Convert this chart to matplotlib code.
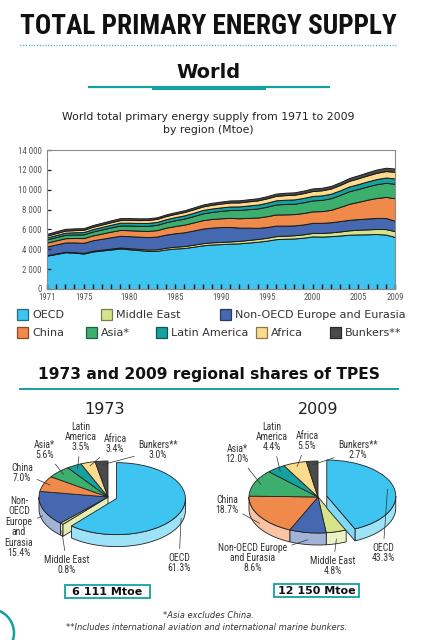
import numpy as np
import matplotlib
matplotlib.use("Agg")
import matplotlib.pyplot as plt
import matplotlib.colors as mcolors
from matplotlib import font_manager as fm
from matplotlib.patches import Rectangle, Polygon, Circle
from matplotlib.ticker import FixedLocator, FuncFormatter

# ---------------- data ----------------
years = list(range(1971, 2010))
oecd = [3360, 3530, 3700, 3660, 3570, 3780, 3880, 3980, 4080, 4000,
        3920, 3830, 3840, 3990, 4080, 4130, 4260, 4400, 4480, 4520,
        4570, 4600, 4680, 4760, 4870, 5020, 5060, 5090, 5170, 5300,
        5280, 5320, 5390, 5470, 5500, 5510, 5540, 5480, 5240]
middle_east = [45, 50, 50, 55, 60, 70, 80, 90, 100, 110,
               125, 140, 160, 175, 185, 195, 205, 215, 225, 220,
               225, 245, 260, 280, 290, 305, 315, 325, 335, 350,
               365, 385, 405, 440, 470, 495, 510, 555, 585]
non_oecd_europe = [880, 910, 940, 980, 1020, 1060, 1100, 1140, 1180, 1210,
                   1230, 1260, 1280, 1320, 1350, 1390, 1430, 1470, 1480, 1500,
                   1460, 1340, 1240, 1120, 1080, 1060, 1010, 990, 1000, 1010,
                   1020, 1020, 1050, 1060, 1070, 1100, 1110, 1120, 1045]
china = [390, 410, 428, 440, 480, 490, 530, 570, 590, 600,
         600, 620, 650, 690, 730, 770, 810, 850, 870, 880,
         910, 940, 990, 1040, 1090, 1120, 1130, 1140, 1150, 1160,
         1180, 1250, 1420, 1610, 1740, 1890, 2010, 2120, 2272]
asia = [320, 330, 342, 355, 370, 390, 410, 430, 450, 470,
        490, 510, 530, 555, 580, 610, 640, 680, 710, 750,
        790, 830, 870, 910, 960, 1010, 1050, 1040, 1080, 1100,
        1130, 1170, 1210, 1270, 1300, 1340, 1390, 1420, 1458]
latin_america = [200, 207, 214, 225, 235, 245, 255, 265, 280, 290,
                 290, 295, 295, 305, 315, 325, 335, 340, 345, 350,
                 360, 365, 375, 390, 400, 415, 430, 440, 440, 450,
                 455, 455, 465, 480, 490, 505, 520, 535, 535]
africa = [190, 200, 208, 215, 225, 235, 245, 255, 265, 275,
          285, 295, 305, 315, 325, 335, 350, 360, 375, 390,
          400, 405, 415, 425, 440, 450, 460, 470, 485, 500,
          510, 525, 545, 565, 590, 605, 625, 650, 668]
bunkers = [170, 178, 183, 175, 170, 175, 180, 190, 195, 190,
           180, 170, 165, 170, 170, 180, 185, 190, 195, 200,
           205, 210, 210, 215, 220, 230, 240, 240, 250, 260,
           255, 260, 265, 285, 300, 315, 330, 335, 328]

regions = ["OECD", "Middle East", "Non-OECD Europe and Eurasia", "China",
           "Asia*", "Latin America", "Africa", "Bunkers**"]
shares_1973 = [61.3, 0.8, 15.4, 7.0, 5.6, 3.5, 3.4, 3.0]
shares_2009 = [43.3, 4.8, 8.6, 18.7, 12.0, 4.4, 5.5, 2.7]
pie_labels_1973 = ["OECD", "Middle East", "Non-\nOECD\nEurope\nand\nEurasia", "China",
                   "Asia*", "Latin\nAmerica", "Africa", "Bunkers**"]
pie_labels_2009 = ["OECD", "Middle East", "Non-OECD Europe\nand Eurasia", "China",
                   "Asia*", "Latin\nAmerica", "Africa", "Bunkers**"]
total_1973 = "6 111 Mtoe"
total_2009 = "12 150 Mtoe"
y_ticks = [0, 2000, 4000, 6000, 8000, 10000, 12000, 14000]
x_tick_years = [1971, 1975, 1980, 1985, 1990, 1995, 2000, 2005, 2009]

colors = ["#3DC4F0", "#D5E38B", "#4568B0", "#F08A4A",
          "#3CAE6E", "#16A0A0", "#FDDB8C", "#4A4A4A"]
TEAL = "#16A0A0"

# ---------------- fonts: look for a narrow face ----------------
COND = ("condensed", "semi-condensed", "extra-condensed", "ultra-condensed")
cond_fonts = [f for f in fm.fontManager.ttflist
              if str(f.stretch) in COND or "narrow" in f.name.lower()
              or "condensed" in f.name.lower()]
pref = ["Liberation Sans Narrow", "Roboto Condensed", "Open Sans Condensed",
        "Noto Sans", "Open Sans", "DejaVu Sans", "Roboto"]
narrow_name, narrow_stretch = None, "normal"
for p in pref:
    hits = [f for f in cond_fonts if f.name == p]
    if hits:
        narrow_name, narrow_stretch = p, str(hits[0].stretch)
        break
if narrow_name is None and cond_fonts:
    narrow_name, narrow_stretch = cond_fonts[0].name, str(cond_fonts[0].stretch)
HAVE_NARROW = narrow_name is not None
NARROW = [narrow_name, "DejaVu Sans"] if HAVE_NARROW else ["DejaVu Sans"]
NSTR = narrow_stretch if HAVE_NARROW else "normal"
LBL_FS = 7 if HAVE_NARROW else 6.3
TICK_FS = 6.3 if HAVE_NARROW else 5.8

W, H = 432, 640
fig = plt.figure(figsize=(W / 100, H / 100), dpi=100)
fig.patch.set_facecolor("white")

ov = fig.add_axes([0, 0, 1, 1])
ov.set_xlim(0, W)
ov.set_ylim(H, 0)
ov.axis("off")
ov.set_zorder(10)


def fit_width(t, width):
    fig.canvas.draw()
    r = fig.canvas.get_renderer()
    w = t.get_window_extent(renderer=r).width
    t.set_fontsize(t.get_fontsize() * width / w)


# ---------------- header ----------------
t = ov.text(208, 27, "TOTAL PRIMARY ENERGY SUPPLY", ha="center", va="center",
            fontsize=20, fontweight="bold", color="#111111",
            family=NARROW, fontstretch=NSTR)
fit_width(t, 378)
ov.plot([20, 397], [44.5, 44.5], color=TEAL, lw=1.0, ls=(0, (0.6, 1.4)))

t = ov.text(208, 72, "World", ha="center", va="center", fontsize=15,
            fontweight="bold", color="#111111", family=["DejaVu Sans"])
fit_width(t, 64)
ov.plot([88, 330], [87, 87], color=TEAL, lw=1.6, solid_capstyle="butt")
ov.add_patch(Rectangle((152, 86.2), 114, 4.2, facecolor=TEAL, edgecolor="none"))

ov.text(208, 117, "World total primary energy supply from 1971 to 2009",
        ha="center", va="center", fontsize=7.8, color="#222222")
ov.text(208, 130, "by region (Mtoe)", ha="center", va="center",
        fontsize=7.8, color="#222222")

# ---------------- area chart ----------------
ax = fig.add_axes([47 / W, 1 - 289 / H, 348 / W, 139 / H])
series = [oecd, middle_east, non_oecd_europe, china, asia,
          latin_america, africa, bunkers]
ax.stackplot(years, *series, colors=colors, edgecolor="#1a1a1a", linewidth=0.7)
ax.set_xlim(1971, 2009)
ax.set_ylim(0, 14000)
ax.yaxis.set_major_locator(FixedLocator(y_ticks))
ax.yaxis.set_major_formatter(FuncFormatter(lambda v, p: f"{int(v):,}".replace(",", " ")))
ax.xaxis.set_major_locator(FixedLocator(x_tick_years))
ax.xaxis.set_minor_locator(FixedLocator(years))
ax.tick_params(axis="y", direction="in", length=3, width=0.9, color="#222222",
               labelsize=TICK_FS, labelcolor="#555555", pad=4)
ax.tick_params(axis="x", which="major", direction="in", length=3.5, width=1.0,
               color="#111111", labelsize=TICK_FS, labelcolor="#555555", pad=3)
ax.tick_params(axis="x", which="minor", direction="in", length=3.5, width=1.0,
               color="#111111")
for lab in ax.get_xticklabels() + ax.get_yticklabels():
    lab.set_family(NARROW)
    lab.set_fontstretch(NSTR)
for s in ax.spines.values():
    s.set_color("#8a8a8a")
    s.set_linewidth(0.8)

# ---------------- legend ----------------
leg_items = [(17, 314, 0), (101, 314, 1), (220, 314, 2),
             (17, 332, 3), (86, 332, 4), (156, 332, 5), (256, 332, 6), (330, 332, 7)]


def darken(c, f=0.6):
    r, g, b = mcolors.to_rgb(c)
    return (r * f, g * f, b * f)


def lighten(c, f=0.5):
    r, g, b = mcolors.to_rgb(c)[:3]
    return (r + (1 - r) * f, g + (1 - g) * f, b + (1 - b) * f)


for x, y, i in leg_items:
    ov.add_patch(Rectangle((x, y - 5.5), 11, 11, facecolor=colors[i],
                           edgecolor=darken(colors[i], 0.55), lw=0.9))
    ov.text(x + 15, y + 0.5, regions[i], ha="left", va="center", fontsize=8,
            color="#333333")

# ---------------- section title ----------------
t = ov.text(209, 375, "1973 and 2009 regional shares of TPES", ha="center",
            va="center", fontsize=12, fontweight="bold", color="#111111")
fit_width(t, 342)
ov.plot([20, 398], [389, 389], color=TEAL, lw=1.4)


# ---------------- pies ----------------
def draw_pie(cx, cy, shares, labels, label_pos, title, total, box):
    a, b, depth = 69.0, 36.0, 12.0
    hw, hh = 100.0, 70.0
    pax = fig.add_axes([(cx - hw) / W, 1 - (cy + hh) / H, 2 * hw / W, 2 * hh / H])
    explode = [0.13] + [0] * (len(shares) - 1)
    wedges, _ = pax.pie(shares, colors=colors, startangle=90, counterclock=False,
                        explode=explode,
                        wedgeprops=dict(edgecolor="#222222", linewidth=0.6))
    pax.set_aspect("auto")
    pax.set_xlim(-hw / a, hw / a)
    pax.set_ylim(-hh / b, hh / b)
    pax.axis("off")
    d = depth / b

    def side(w, s, e, z):
        (x0, y0), r = w.center, w.r
        tt = np.radians(np.linspace(s, e, 50))
        xs = x0 + r * np.cos(tt)
        ys = y0 + r * np.sin(tt)
        pts = np.column_stack([np.r_[xs, xs[::-1]], np.r_[ys, ys[::-1] - d]])
        pax.add_patch(Polygon(pts, closed=True, facecolor=lighten(w.get_facecolor(), 0.5),
                              edgecolor="#222222", lw=0.6, zorder=z))

    def face(w, ang, z):
        (x0, y0), r = w.center, w.r
        px_, py_ = x0 + r * np.cos(np.radians(ang)), y0 + r * np.sin(np.radians(ang))
        pts = [(x0, y0), (px_, py_), (px_, py_ - d), (x0, y0 - d)]
        pax.add_patch(Polygon(pts, closed=True, facecolor=lighten(w.get_facecolor(), 0.35),
                              edgecolor="#222222", lw=0.6, zorder=z))

    n = len(wedges)
    for i, w in enumerate(wedges):
        z = 3 if i == 0 else 1
        w.set_zorder(z + 1)
        for k in (-1, 0, 1):
            lo = max(w.theta1, 180 + 360 * k)
            hi = min(w.theta2, 360 + 360 * k)
            if hi > lo:
                side(w, lo, hi, z)
    cand = [(wedges[0], wedges[0].theta1, wedges[0].theta1 - 90, 3),
            (wedges[0], wedges[0].theta2, wedges[0].theta2 + 90, 3),
            (wedges[1], wedges[1].theta2, wedges[1].theta2 + 90, 1),
            (wedges[n - 1], wedges[n - 1].theta1, wedges[n - 1].theta1 - 90, 1)]
    for w, ang, nrm, z in cand:
        if np.sin(np.radians(nrm)) < -0.02:
            face(w, ang, z)

    for i, w in enumerate(wedges):
        mid = np.radians((w.theta1 + w.theta2) / 2)
        (x0, y0), r = w.center, w.r
        if np.sin(mid) < 0:
            xy = (x0 + r * np.cos(mid), y0 + r * np.sin(mid) - d * 0.6)
        else:
            xy = (x0 + 0.9 * r * np.cos(mid), y0 + 0.9 * r * np.sin(mid))
        lx, ly = label_pos[i]
        ov.annotate(f"{labels[i]}\n{shares[i]:.1f}%", xy=xy, xycoords=pax.transData,
                    xytext=(lx, ly), textcoords=ov.transData,
                    ha="center", va="center", multialignment="center",
                    fontsize=LBL_FS, color="#333333", family=NARROW,
                    fontstretch=NSTR, linespacing=1.05,
                    annotation_clip=False,
                    arrowprops=dict(arrowstyle="-", color="#333333", lw=0.5,
                                    shrinkA=1, shrinkB=0))

    ov.text(cx - 3 if title == "1973" else cx, 409, title, ha="center", va="center",
            fontsize=11.5, color="#222222")
    bx, by, bw, bh = box
    ov.add_patch(Rectangle((bx, by), bw, bh, facecolor="white", edgecolor=TEAL, lw=1.3))
    ov.text(bx + bw / 2, by + bh / 2 + 0.5, total, ha="center", va="center",
            fontsize=8, fontweight="bold", color="#111111")


pos_1973 = [(179, 563), (67, 565), (19, 527), (22, 473),
            (44, 450), (81, 437), (115, 444), (158, 450)]
pos_2009 = [(383, 553), (333, 566), (253, 558), (227, 505),
            (237, 454), (272, 437), (307, 441), (358, 450)]
draw_pie(108, 497, shares_1973, pie_labels_1973, pos_1973, "1973", total_1973,
         (65, 585, 85, 13))
draw_pie(318, 497, shares_2009, pie_labels_2009, pos_2009, "2009", total_2009,
         (274, 584, 85, 13))

# ---------------- footnotes ----------------
ov.text(208, 615, "*Asia excludes China.", ha="center", va="center",
        fontsize=6, style="italic", color="#333333")
ov.text(207, 628, "**Includes international aviation and international marine bunkers.",
        ha="center", va="center", fontsize=6, style="italic", color="#333333")
ov.add_patch(Circle((-10, 633), 24, facecolor="none", edgecolor=TEAL, lw=1.8,
                    clip_on=True))

fig.savefig("out.png", dpi=100)
